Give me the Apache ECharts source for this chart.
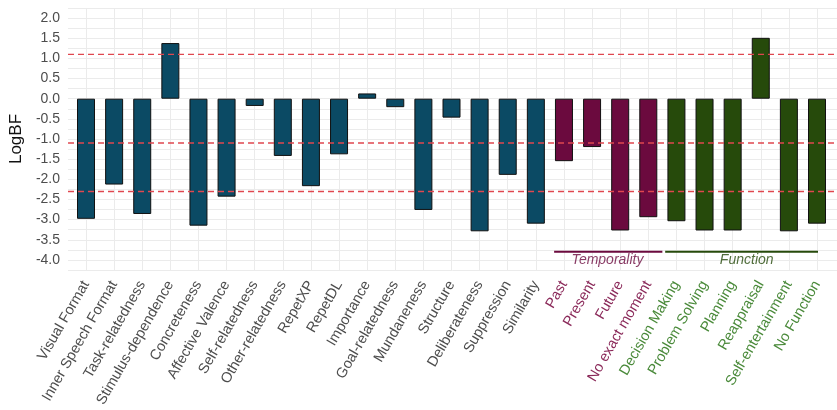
<!DOCTYPE html>
<html lang="en">
<head>
    <meta charset="utf-8">
    <title>LogBF</title>
    <script src="https://cdn.jsdelivr.net/npm/echarts@6/dist/echarts.min.js"></script>
    <style>
        html, body { margin: 0; padding: 0; background: #fff; }
        #chart { width: 837px; height: 410px; }
    </style>
</head>
<body>
<div id="chart"></div>
<script>
    // categories in display order
    var categories = ['Visual Format', 'Inner Speech Format', 'Task-relatedness', 'Stimulus-dependence',
        'Concreteness', 'Affective Valence', 'Self-relatedness', 'Other-relatedness', 'RepetXP', 'RepetDL',
        'Importance', 'Goal-relatedness', 'Mundaneness', 'Structure', 'Deliberateness', 'Suppression',
        'Similarity', 'Past', 'Present', 'Future', 'No exact moment', 'Decision Making', 'Problem Solving',
        'Planning', 'Reappraisal', 'Self-entertainment', 'No Function'];
    var groups = ['c', 'c', 'c', 'c', 'c', 'c', 'c', 'c', 'c', 'c', 'c', 'c', 'c', 'c', 'c', 'c', 'c',
        't', 't', 't', 't', 'f', 'f', 'f', 'f', 'f', 'f'];
    var logBF = [-2.98, -2.13, -2.86, 1.38, -3.15, -2.43, -0.18, -1.42, -2.17, -1.38,
        0.13, -0.21, -2.76, -0.47, -3.29, -1.89, -3.10,
        -1.55, -1.20, -3.27, -2.94,
        -3.04, -3.27, -3.27, 1.51, -3.29, -3.10];
    var refLines = [Math.log(3), -Math.log(3), -Math.log(10)];
    // group annotations: [label, x from, x to, text x]
    var brackets = [['Temporality', 16.65, 20.5, 18.55], ['Function', 20.6, 26.5, 23.5]];

    var barColor = { c: '#0b4a64', t: '#6b0a3e', f: '#264a0b' };
    var labelColor = { c: '#4d4d4d', t: '#8b2a5a', f: '#4a8a3a' };
    var refColor = '#e0474f';

    var chart = echarts.init(document.getElementById('chart'));

    var series = [];
    series.push({
        type: 'bar',
        xAxisIndex: 1,
        yAxisIndex: 1,
        barWidth: 18,
        clip: false,
        data: logBF.map(function (v, i) {
            return { value: v, itemStyle: { color: barColor[groups[i]] } };
        }),
        itemStyle: { borderColor: '#111', borderWidth: 1 },
        z: 3
    });
    refLines.forEach(function (y) {
        series.push({
            type: 'line',
            xAxisIndex: 0,
            yAxisIndex: 0,
            data: [[0, y], [1, y]],
            symbol: 'none',
            itemStyle: { color: refColor },
            lineStyle: { color: refColor, width: 1.4, type: [6, 4] },
            emphasis: { disabled: true },
            z: 10,
            silent: true
        });
    });
    brackets.forEach(function (b) {
        var col = b[0] === 'Temporality' ? barColor.t : barColor.f;
        series.push({
            type: 'line',
            xAxisIndex: 2,
            yAxisIndex: 1,
            clip: false,
            data: [[b[1], -3.8], [b[2], -3.8]],
            symbol: 'none',
            itemStyle: { color: col },
            lineStyle: { color: col, width: 2 },
            silent: true
        });
        series.push({
            type: 'scatter',
            xAxisIndex: 2,
            yAxisIndex: 1,
            clip: false,
            symbolSize: 0,
            data: [[b[3], -4.0]],
            label: {
                show: true,
                position: 'inside',
                formatter: b[0],
                color: col,
                fontStyle: 'italic',
                fontSize: 14,
                fontFamily: 'Liberation Sans'
            },
            silent: true
        });
    });

    chart.setOption({
        animation: false,
        textStyle: { fontFamily: 'Liberation Sans' },
        grid: [
            { left: 60, right: 0, top: 8, height: 262 },
            { left: 86, right: 20, top: 8, height: 262 }
        ],
        xAxis: [
            { type: 'value', gridIndex: 0, min: 0, max: 1, show: false },
            {
                type: 'category',
                gridIndex: 1,
                data: categories,
                boundaryGap: false,
                axisLine: { show: false },
                axisTick: { show: false },
                splitLine: { show: true, lineStyle: { color: '#ebebeb', width: 1 } },
                axisLabel: {
                    interval: 0,
                    rotate: 60,
                    fontSize: 14.5,
                    margin: 12,
                    color: function (value, index) { return labelColor[groups[index]]; }
                }
            },
            { type: 'value', gridIndex: 1, min: 0, max: 26, show: false }
        ],
        yAxis: [
            {
                type: 'value',
                gridIndex: 0,
                min: -4.25,
                max: 2.25,
                interval: 0.25,
                name: 'LogBF',
                nameLocation: 'middle',
                nameGap: 40,
                nameTextStyle: { fontSize: 17, color: '#111' },
                axisLine: { show: false },
                axisTick: { show: false },
                splitLine: { show: true, lineStyle: { color: '#ebebeb', width: 1 } },
                axisLabel: {
                    fontSize: 14,
                    color: '#4d4d4d',
                    margin: 8,
                    formatter: function (v) {
                        if (Math.abs(v * 2 - Math.round(v * 2)) > 1e-6) return '';
                        return v.toFixed(1);
                    }
                }
            },
            { type: 'value', gridIndex: 1, min: -4.25, max: 2.25, show: false }
        ],
        series: series
    });
</script>
</body>
</html>
